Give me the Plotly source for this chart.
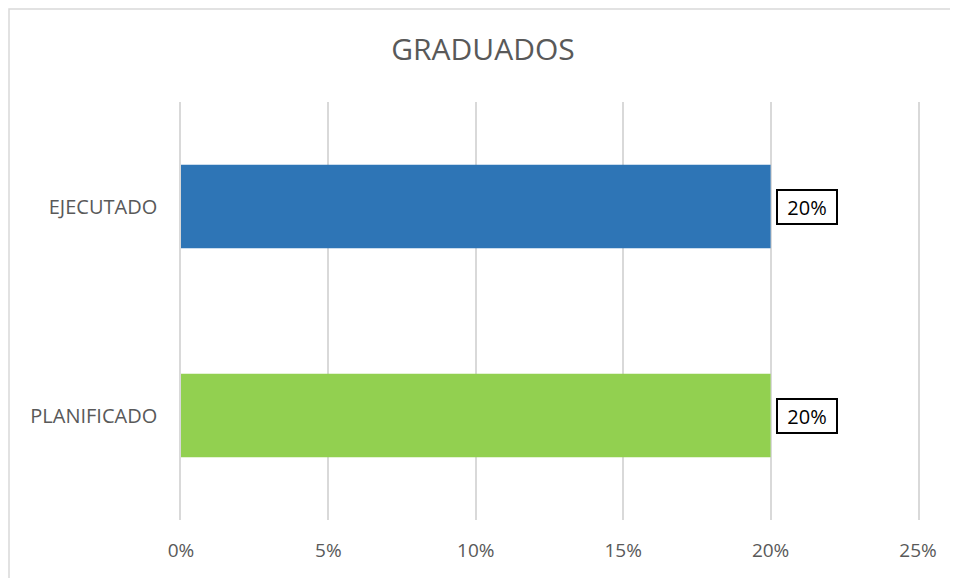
import plotly.graph_objects as go

categories = ['PLANIFICADO', 'EJECUTADO']
values = [0.20, 0.20]
bar_colors = ['#92D050', '#2E75B6']
tick_vals = [0, 0.05, 0.10, 0.15, 0.20, 0.25]
tick_text = ['0%', '5%', '10%', '15%', '20%', '25%']

FONT = 'Open Sans'
GREY = '#595959'
GRID = '#D9D9D9'

fig = go.Figure()
fig.add_trace(go.Bar(
    y=categories,
    x=values,
    orientation='h',
    marker=dict(color=bar_colors, line=dict(width=0)),
    width=0.4,
    hoverinfo='x+y',
))

# boxed data labels next to the bar ends
for cat, val in zip(categories, values):
    fig.add_annotation(
        x=val, y=cat, xref='x', yref='y',
        text=f'{val:.0%}', showarrow=False,
        xanchor='left', xshift=5,
        width=56, height=30, align='center',
        font=dict(family=FONT, size=20, color='black'),
        bordercolor='black', borderwidth=2, borderpad=1,
        bgcolor='white',
    )

# light frame around the chart (only top/left visible in original)
fig.add_shape(type='rect', xref='paper', yref='paper',
              x0=-172/737, x1=1.2, y0=-0.3, y1=1 + 93/418,
              line=dict(color=GRID, width=1.5), layer='below')

fig.update_layout(
    width=958, height=578,
    margin=dict(l=173, r=48, t=94, b=66, autoexpand=False),
    paper_bgcolor='white', plot_bgcolor='white',
    title=dict(text='GRADUADOS', x=475/958, xanchor='center', y=1 - 41/578, yanchor='middle',
               font=dict(family=FONT, size=30, color=GREY)),
    showlegend=False,
    bargap=0.6,
    font=dict(family=FONT, size=20, color=GREY),
)
fig.update_xaxes(range=[0, 0.25], tickvals=tick_vals, ticktext=tick_text,
                 showgrid=True, gridcolor=GRID, gridwidth=1.5,
                 zeroline=False,
                 showline=False, ticks='', automargin=False,
                 ticklabelstandoff=17,
                 tickfont=dict(family=FONT, size=19, color=GREY))
# left/right lines stand in for the 0% and 25% gridlines at the range edges
fig.update_yaxes(showgrid=False, showline=True, mirror=True, linecolor=GRID, linewidth=1.5,
                 ticks='', ticklabelstandoff=18, automargin=False,
                 tickfont=dict(family=FONT, size=20, color=GREY))

fig.write_html('out.html')
